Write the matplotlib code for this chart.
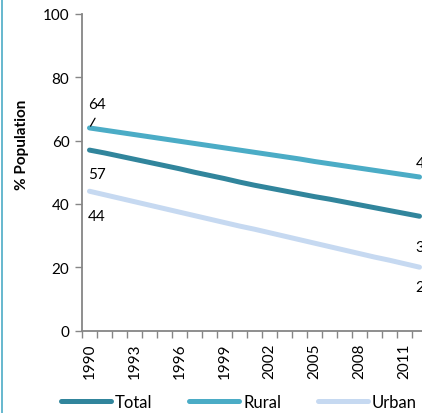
import matplotlib.pyplot as plt
from matplotlib.lines import Line2D
import numpy as np

plt.rcParams['font.family'] = ['Lato', 'DejaVu Sans']

years = list(range(1990, 2013))
total = [57.0, 56.1, 55.1, 54.1, 53.1, 52.1, 51.1, 50.0, 49.0, 48.0, 46.9, 45.9,
         45.0, 44.1, 43.2, 42.3, 41.5, 40.6, 39.7, 38.8, 37.9, 37.0, 36.1]
rural = [64.0, 63.3, 62.6, 61.9, 61.2, 60.5, 59.8, 59.1, 58.4, 57.7, 57.0, 56.3,
         55.6, 54.9, 54.2, 53.4, 52.7, 52.0, 51.3, 50.6, 49.9, 49.2, 48.5]
urban = [44.0, 42.9, 41.8, 40.7, 39.6, 38.5, 37.4, 36.3, 35.2, 34.1, 33.0, 32.0,
         30.9, 29.8, 28.7, 27.6, 26.5, 25.4, 24.3, 23.2, 22.2, 21.1, 20.0]
tick_years = list(range(1990, 2013, 3))

c_total = '#31859c'
c_rural = '#4bacc6'
c_urban = '#c6d9f1'
grey = '#868686'

fig = plt.figure(figsize=(4.22, 4.14), dpi=100)
ax = fig.add_axes([82/422, 1-331.5/414, 360/422, 316.5/414])

ax.plot(years, total, color=c_total, lw=3.6, solid_capstyle='round', label='Total')
ax.plot(years, rural, color=c_rural, lw=3.6, solid_capstyle='round', label='Rural')
ax.plot(years, urban, color=c_urban, lw=3.6, solid_capstyle='round', label='Urban')

ax.set_xlim(1989.5, 2013.5)
ax.set_ylim(0, 100)
ax.set_yticks(range(0, 101, 20))
ax.set_xticks(tick_years)
ax.set_xticklabels([str(y) for y in tick_years], rotation=90)
ax.set_xticks(np.arange(1989.5, 2013.6, 1), minor=True)
ax.tick_params(axis='x', which='major', length=0, pad=9, labelsize=11)
ax.tick_params(axis='x', which='minor', length=5, color=grey, width=1)
ax.tick_params(axis='y', length=5, color=grey, width=1, labelsize=11, pad=4)

for s in ['top', 'right']:
    ax.spines[s].set_visible(False)
for s in ['left', 'bottom']:
    ax.spines[s].set_color(grey)
    ax.spines[s].set_linewidth(1.3)

# data labels at both ends
lab = dict(fontsize=11, annotation_clip=False)
ax.annotate(f'{rural[0]:.0f}', (years[0], rural[0]), xytext=(-1, 12), textcoords='offset points',
            va='bottom', ha='left', **lab)
ax.annotate('', (years[0], rural[0]), xytext=(4, 7), textcoords='offset points',
            arrowprops=dict(arrowstyle='-', color='black', lw=0.9, shrinkA=0, shrinkB=1.5),
            annotation_clip=False)
ax.annotate(f'{total[0]:.0f}', (years[0], total[0]), xytext=(-1, -12), textcoords='offset points',
            va='top', ha='left', **lab)
ax.annotate(f'{urban[0]:.0f}', (years[0], urban[0]), xytext=(-1, -13), textcoords='offset points',
            va='top', ha='left', **lab)
ax.annotate(f'{rural[-1]:.0f}', (years[-1], rural[-1]), xytext=(-3, 5), textcoords='offset points',
            va='bottom', ha='left', **lab)
ax.annotate(f'{total[-1]:.0f}', (years[-1], total[-1]), xytext=(-3, -17), textcoords='offset points',
            va='top', ha='left', **lab)
ax.annotate(f'{urban[-1]:.0f}', (years[-1], urban[-1]), xytext=(-3, -9), textcoords='offset points',
            va='top', ha='left', **lab)

fig.text(22/422, 1-145/414, '% Population', rotation=90, fontsize=11, fontweight='bold',
         ha='center', va='center')

fig.legend(loc='center', bbox_to_anchor=(0.566, 1-403/414), ncol=3, frameon=False,
           fontsize=12, handlelength=3.0, columnspacing=2.2, handletextpad=0.25)

fig.add_artist(Line2D([1.5/422, 1.5/422], [0, 1], color='#4bacc6', lw=1.2))

fig.savefig('out.png', dpi=100)
